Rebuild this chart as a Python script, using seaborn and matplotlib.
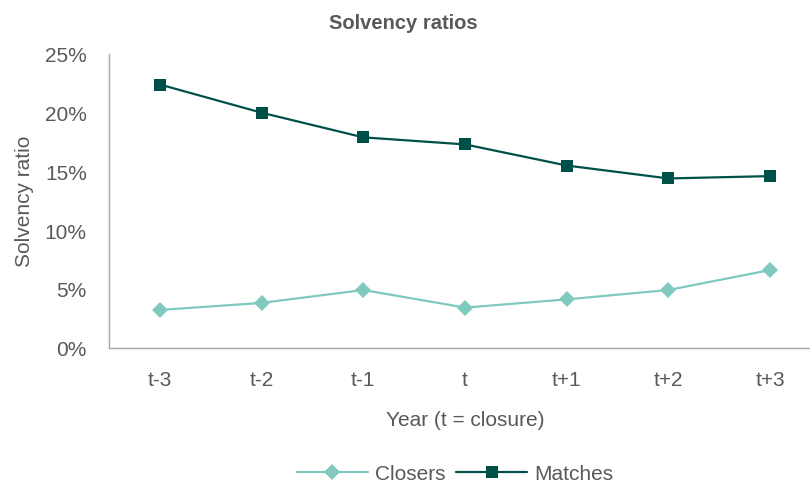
import matplotlib
matplotlib.use("Agg")
import matplotlib.pyplot as plt
from matplotlib.ticker import FuncFormatter
import seaborn as sns
import pandas as pd

years = ["t-3", "t-2", "t-1", "t", "t+1", "t+2", "t+3"]
closers = [3.2, 3.8, 4.9, 3.4, 4.1, 4.9, 6.6]
matches = [22.4, 20.0, 17.9, 17.3, 15.5, 14.4, 14.6]
series_names = ["Closers", "Matches"]
y_ticks = [0, 5, 10, 15, 20, 25]

df = pd.DataFrame({
    "year": years * 2,
    "ratio": closers + matches,
    "group": [series_names[0]] * len(years) + [series_names[1]] * len(years),
})

sns.set_theme(style="white")
plt.rcParams["font.family"] = ["Liberation Sans", "DejaVu Sans"]
text_gray = "#595959"
axis_gray = "#A6A6A6"
palette = {"Closers": "#80C9BF", "Matches": "#00504A"}
fs = 15

fig = plt.figure(figsize=(8.1, 4.85), dpi=100)
ax = fig.add_axes([0.1346, 0.2814, 0.8790, 0.6052])

sns.lineplot(
    data=df, x="year", y="ratio", hue="group", style="group",
    markers={"Closers": "D", "Matches": "s"}, dashes=False,
    palette=palette, linewidth=1.6, markersize=8, markeredgewidth=0,
    sort=False, ax=ax,
)

handles, labels = ax.get_legend_handles_labels()
ax.get_legend().remove()

ax.set_xlim(-0.5, 6.5)
ax.set_ylim(0, 25)
ax.set_yticks(y_ticks)
ax.yaxis.set_major_formatter(FuncFormatter(lambda v, _: f"{v:.0f}%"))
ax.tick_params(axis="both", length=0, labelsize=fs, colors=text_gray)
ax.tick_params(axis="x", pad=16)
ax.tick_params(axis="y", pad=16)

for side in ("top", "right"):
    ax.spines[side].set_visible(False)
for side in ("left", "bottom"):
    ax.spines[side].set_color(axis_gray)
    ax.spines[side].set_linewidth(1.0)

ax.set_xlabel("Year (t = closure)", fontsize=fs, color=text_gray, labelpad=15)
ax.set_ylabel("Solvency ratio", fontsize=fs, color=text_gray, labelpad=8)

fig.text(0.4975, 0.952, "Solvency ratios", ha="center", va="center",
         fontsize=14.5, fontweight="bold", color=text_gray)

fig.legend(handles, labels, loc="center", bbox_to_anchor=(0.562, 0.021),
           ncol=2, frameon=False, fontsize=fs, handlelength=3.4,
           columnspacing=0.5, handletextpad=0.35, labelcolor=text_gray)

fig.savefig("out.png", dpi=100)
